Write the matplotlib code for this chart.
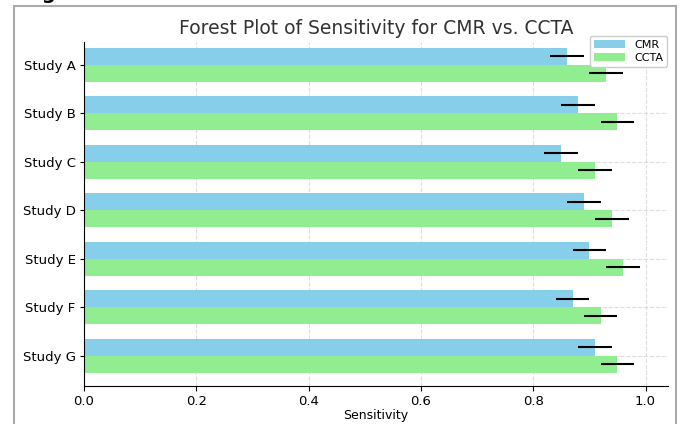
import numpy as np
import matplotlib
matplotlib.use('Agg')
import matplotlib.pyplot as plt
from matplotlib.patches import Rectangle

studies = ['Study A', 'Study B', 'Study C', 'Study D', 'Study E', 'Study F', 'Study G']
cmr_sens = [0.86, 0.88, 0.85, 0.89, 0.90, 0.87, 0.91]
ccta_sens = [0.93, 0.95, 0.91, 0.94, 0.96, 0.92, 0.95]
cmr_err = [0.03, 0.03, 0.03, 0.03, 0.03, 0.03, 0.03]
ccta_err = [0.03, 0.03, 0.03, 0.03, 0.03, 0.03, 0.03]

y = np.arange(len(studies))
h = 0.35

fig = plt.figure(figsize=(6.82, 4.24), dpi=100)
ax = fig.add_axes([84 / 682, 1 - 386 / 424, (668 - 84) / 682, (386 - 42) / 424])

ax.barh(y - h / 2, cmr_sens, height=h, color='skyblue', label='CMR', zorder=2)
ax.barh(y + h / 2, ccta_sens, height=h, color='lightgreen', label='CCTA', zorder=2)
ax.errorbar(cmr_sens, y - h / 2, xerr=cmr_err, fmt='none', ecolor='black', elinewidth=1.5, zorder=3)
ax.errorbar(ccta_sens, y + h / 2, xerr=ccta_err, fmt='none', ecolor='black', elinewidth=1.5, zorder=3)

ax.set_yticks(y)
ax.set_yticklabels(studies, fontsize=9.5)
ax.set_ylim(6.62, -0.47)
ax.set_xlim(0, 1.04)
ax.tick_params(axis='x', labelsize=9.5, pad=3)
ax.tick_params(axis='y', length=3, pad=3)
ax.set_xlabel('Sensitivity', fontsize=9, labelpad=1)
ax.set_title('Forest Plot of Sensitivity for CMR vs. CCTA', fontsize=13.5, color='#333333', pad=6)
ax.grid(True, linestyle='--', color='#dddddd', linewidth=0.8, zorder=0)
ax.set_axisbelow(True)
ax.spines['top'].set_visible(False)
ax.spines['right'].set_visible(False)
ax.legend(loc='upper right', bbox_to_anchor=(667 / 682, 1 - 36 / 424),
          bbox_transform=fig.transFigure, fontsize=8, framealpha=1,
          edgecolor='#cccccc', handlelength=2.8, borderpad=0.35,
          labelspacing=0.25, borderaxespad=0)

# screenshot frame around the figure
fig.patches.append(Rectangle((14 / 682, -0.01), (676 - 14) / 682, 1 - 6 / 424 + 0.01,
                             transform=fig.transFigure, fill=False,
                             edgecolor='#aaaaaa', linewidth=1.5))
fig.text(22 / 682, 1 + 1 / 424, 'Fig', fontsize=14, fontweight='bold', va='baseline')

fig.savefig('out.png', dpi=100)
